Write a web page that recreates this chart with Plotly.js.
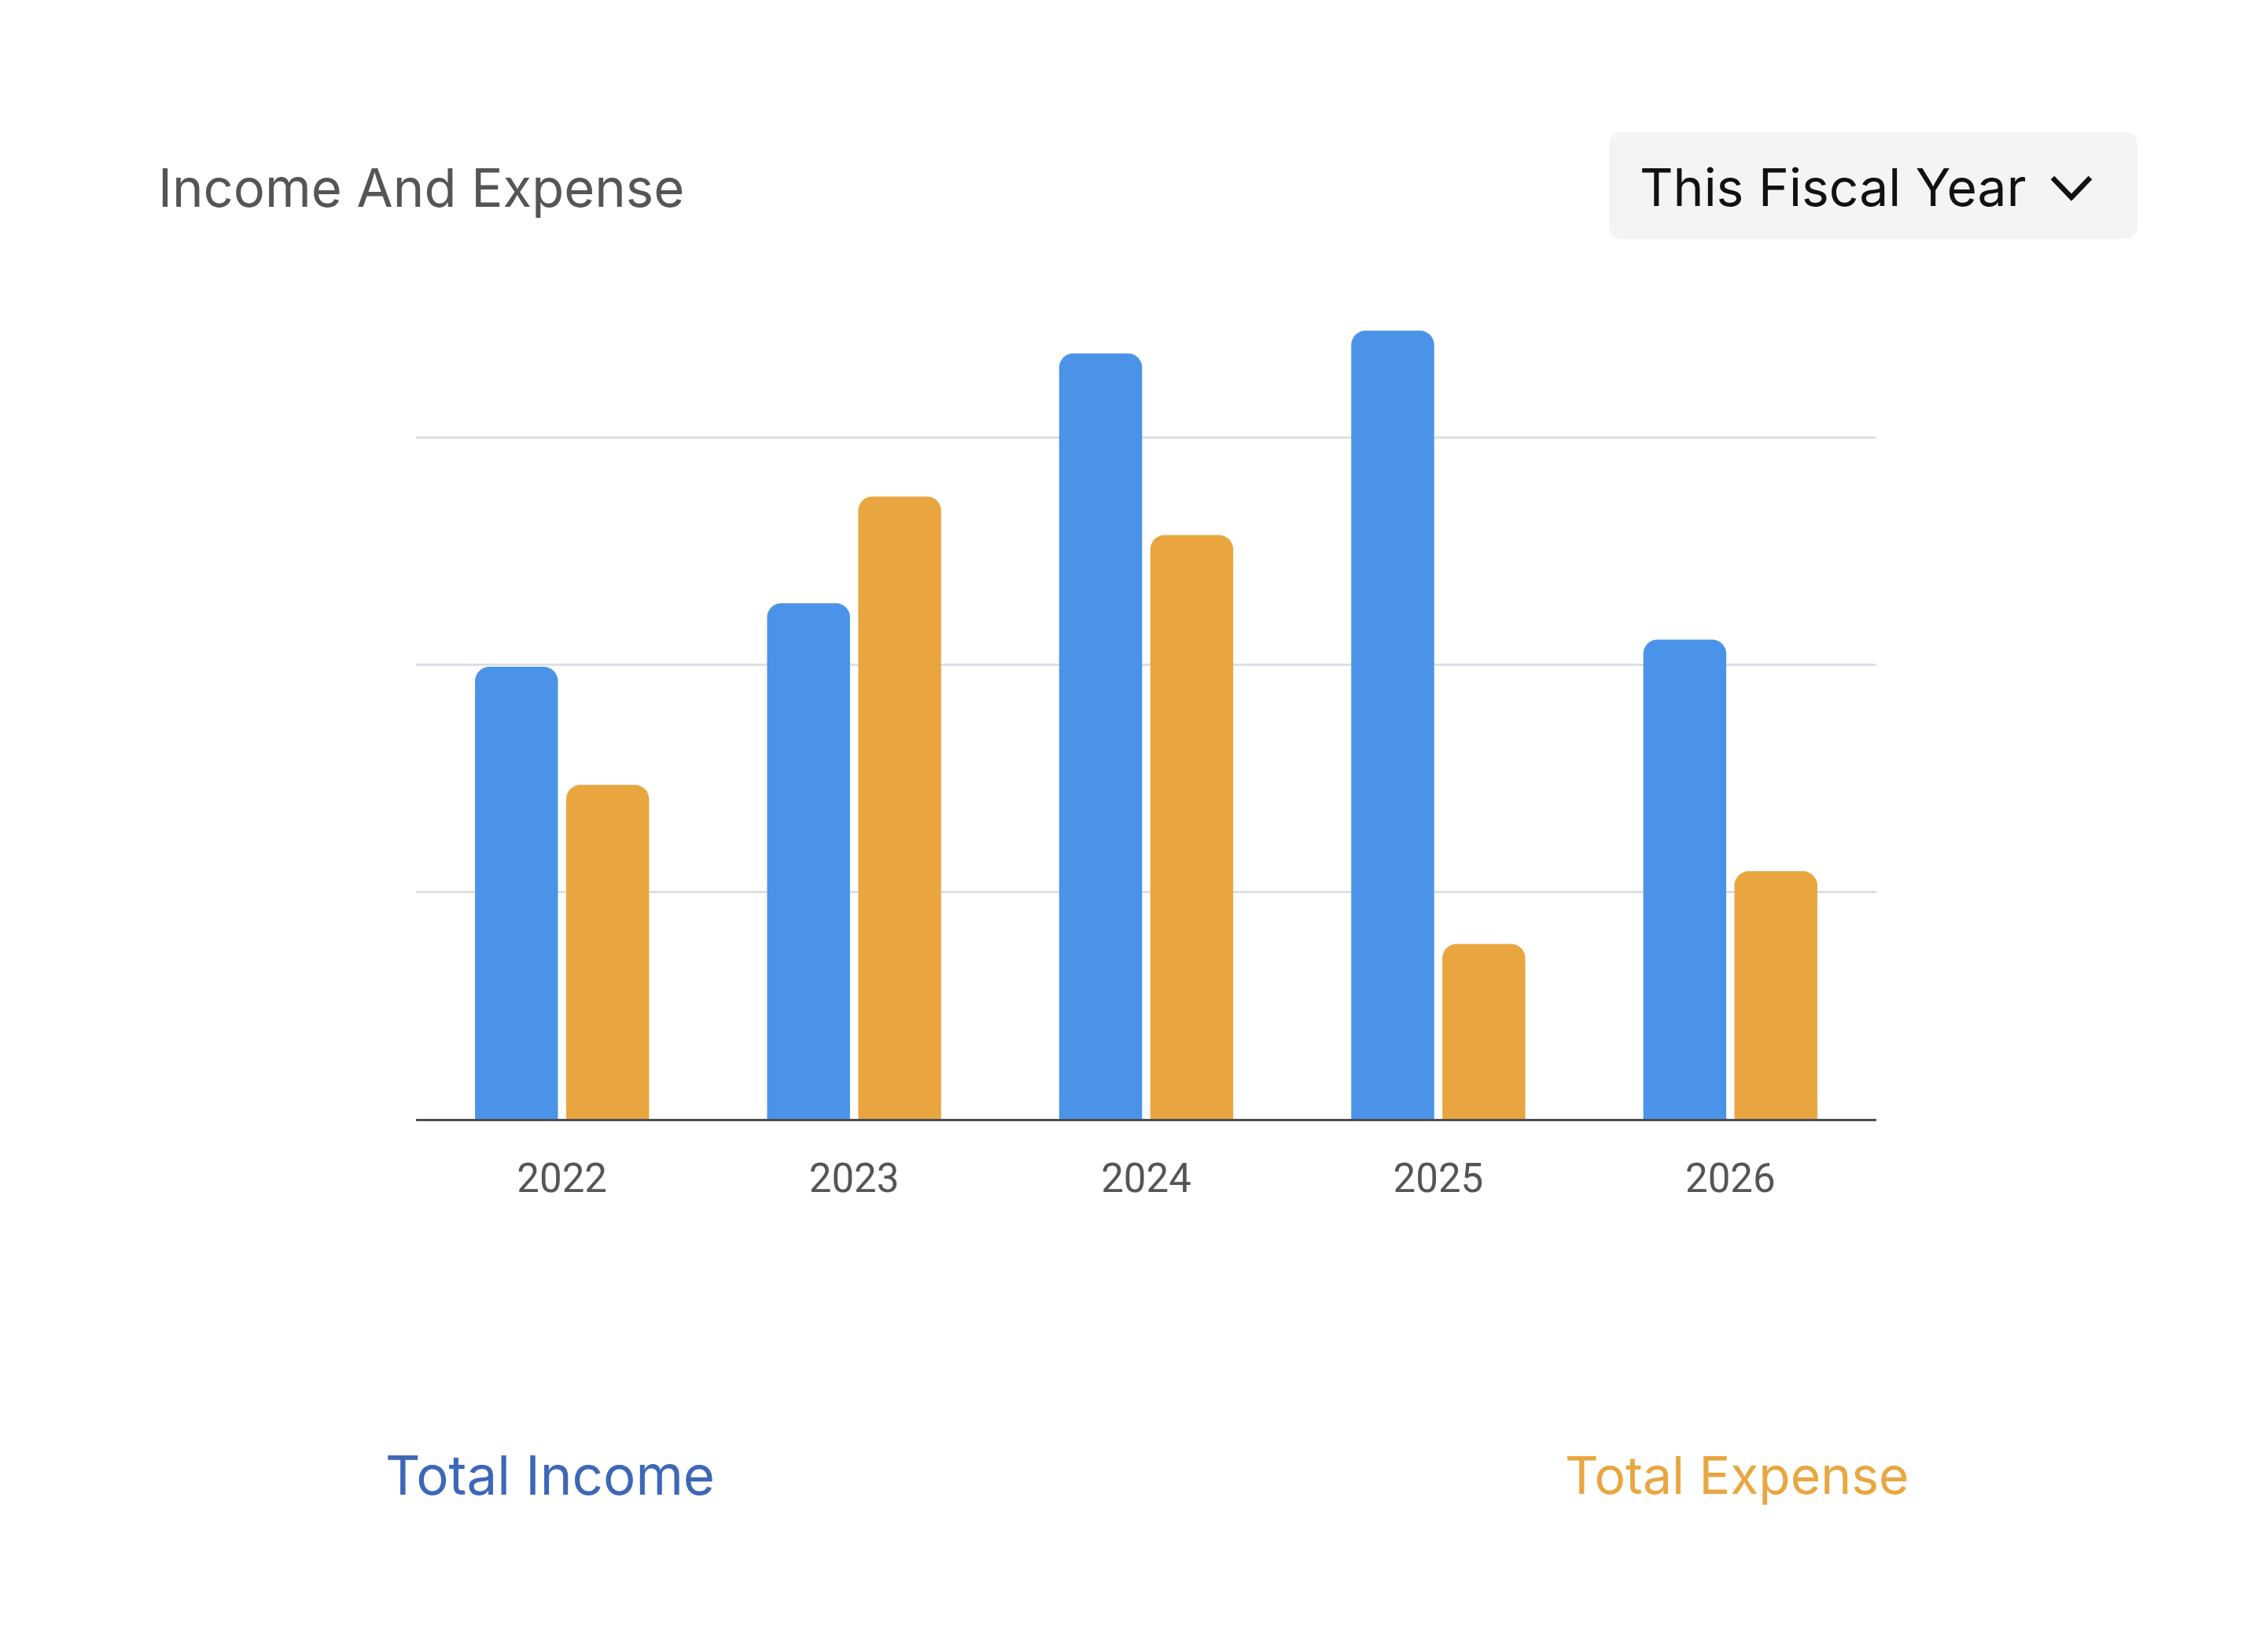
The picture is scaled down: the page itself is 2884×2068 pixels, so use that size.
<!DOCTYPE html>
<html>
<head>
<meta charset="utf-8">
<script src="https://cdn.plot.ly/plotly-3.0.1.min.js"></script>
<style>
html,body{margin:0;padding:0;background:#fff;}
#chart{width:2884px;height:2068px;}
</style>
</head>
<body>
<div id="chart"></div>
<script>
// ---- data ----
const years = ["2022", "2023", "2024", "2025", "2026"];
const totalIncome = [199, 227, 337, 347, 211];
const totalExpense = [147, 274, 257, 77, 109];
const seriesNames = ["Total Income", "Total Expense"];
const chartTitle = "Income And Expense";
const periodLabel = "This Fiscal Year";

// ---- layout helpers ----
const W = 2884, H = 2068;
const M = {l: 529, r: 498, t: 383, b: 645};
const PW = W - M.l - M.r, PH = H - M.t - M.b;
const px = x => (x - M.l) / PW;
const py = y => (H - M.b - y) / PH;

const FONT = "Inter, 'Open Sans', sans-serif";

const traces = [
  {type: "bar", name: seriesNames[0], x: years, y: totalIncome,
   marker: {color: "#4A93E9", cornerradius: 18}, hoverinfo: "x+y"},
  {type: "bar", name: seriesNames[1], x: years, y: totalExpense,
   marker: {color: "#E9A640", cornerradius: 18}, hoverinfo: "x+y"}
];

function roundRect(x0, y0, x1, y1, rpx) {
  const rx = rpx / PW, ry = rpx / PH;
  return `M ${x0 + rx} ${y0} L ${x1 - rx} ${y0} Q ${x1} ${y0} ${x1} ${y0 - ry} ` +
         `L ${x1} ${y1 + ry} Q ${x1} ${y1} ${x1 - rx} ${y1} ` +
         `L ${x0 + rx} ${y1} Q ${x0} ${y1} ${x0} ${y1 + ry} ` +
         `L ${x0} ${y0 - ry} Q ${x0} ${y0} ${x0 + rx} ${y0} Z`;
}

const layout = {
  width: W, height: H,
  margin: M,
  paper_bgcolor: "#ffffff", plot_bgcolor: "#ffffff",
  showlegend: false,
  barmode: "group", bargap: 0.376, bargroupgap: 0.09,
  xaxis: {
    type: "category", showgrid: false, zeroline: false,
    showline: true, linecolor: "#4d4d52", linewidth: 3,
    ticks: "", ticklabelstandoff: 29,
    tickfont: {family: "Roboto, sans-serif", size: 51, color: "#555559"}
  },
  yaxis: {
    range: [0, 360], dtick: 100, showticklabels: false,
    showgrid: true, gridcolor: "#DEDFE6", gridwidth: 3,
    zeroline: false, showline: false, ticks: ""
  },
  shapes: [
    {type: "path", xref: "paper", yref: "paper", layer: "below",
     path: roundRect(px(2046), py(168), px(2718), py(304), 18),
     fillcolor: "#F3F4F6", line: {width: 0}},
    {type: "path", xref: "paper", yref: "paper",
     path: `M ${px(2610)} ${py(226)} L ${px(2634)} ${py(251)} L ${px(2658)} ${py(226)}`,
     line: {color: "#111111", width: 6.5}}
  ],
  annotations: [
    {xref: "paper", yref: "paper", x: px(199), y: py(238), xanchor: "left", yanchor: "middle",
     text: chartTitle, showarrow: false, font: {family: FONT, size: 67, color: "#555555"}},
    {xref: "paper", yref: "paper", x: px(2083), y: py(238), xanchor: "left", yanchor: "middle",
     text: periodLabel, showarrow: false, font: {family: FONT, size: 66, color: "#111111"}},
    {xref: "paper", yref: "paper", x: px(488), y: py(1876), xanchor: "left", yanchor: "middle",
     text: seriesNames[0], showarrow: false, font: {family: FONT, size: 69, color: "#3D67B8"}},
    {xref: "paper", yref: "paper", x: px(1988), y: py(1876), xanchor: "left", yanchor: "middle",
     text: seriesNames[1], showarrow: false, font: {family: FONT, size: 66, color: "#E9A640"}}
  ]
};

Plotly.newPlot("chart", traces, layout, {displayModeBar: false, staticPlot: true});
</script>
</body>
</html>
